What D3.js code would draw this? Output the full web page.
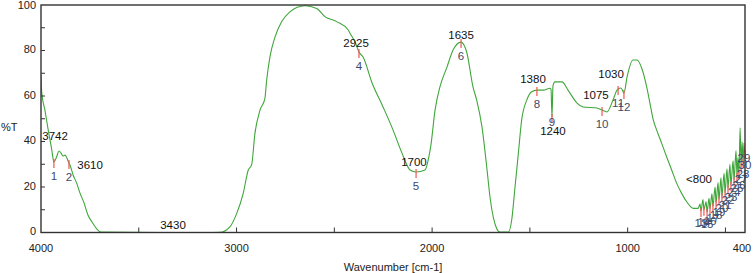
<!DOCTYPE html>
<html>
<head>
<meta charset="utf-8">
<script src="https://cdn.jsdelivr.net/npm/d3@7"></script>
<style>
  html, body { margin: 0; padding: 0; background: #fff; }
  svg { display: block; }
</style>
</head>
<body>
<svg id="chart" width="754" height="273"></svg>
<script>
// ---- data ----
const wavenumbers = [4000,3996,3980,3963,3945,3937,3934,3920,3908,3898,3888,3877,3857,3852,3836,3818,3801,3780,3760,3739,3714,3693,3400,3150,3085,3034,2999,2966,2940,2923,2906,2880,2855,2846,2829,2803,2769,2727,2690,2650,2590,2548,2488,2429,2420,2394,2374,2353,2307,2251,2200,2154,2113,2082,2036,2020,2006,1985,1960,1924,1893,1852,1822,1791,1772,1745,1719,1704,1670,1653,1610,1593,1576,1559,1542,1516,1491,1464,1431,1397,1392,1387,1382,1372,1336,1305,1259,1228,1157,1131,1106,1075,1055,1049,1034,1019,1003,973,952,928,903,886,869,852,826,801,775,749,724,698,664,640,630,625,615,610,599,594,584,579,569,564,553,548,538,533,523,518,507,502,492,487,477,472,461,456,446,441,436,431,425,420,415,410,405,400];
const transmittance = [69.2,61.3,53.8,45.0,36.3,31.9,31.0,33.3,35.8,35.0,33.6,34.0,30.5,29.7,25.3,21.8,17.4,13.0,7.7,4.6,1.5,0.2,0.0,0.0,0.1,2.5,8.4,17.2,27.5,29.7,43.6,53.8,59.0,67.0,77.3,86.0,92.7,97.0,99.0,99.7,98.5,94.9,92.7,89.0,87.6,83.7,79.3,77.1,65.7,55.2,45.1,34.9,27.5,26.6,27.5,31.9,38.5,53.8,64.0,72.7,80.2,83.7,78.9,64.0,58.2,46.4,27.5,15.6,1.8,0.2,0.2,5.5,20.0,34.8,49.5,58.2,61.9,62.6,62.6,63.4,63.0,50.8,64.5,66.2,66.2,62.6,56.9,55.2,54.7,53.8,53.0,58.2,62.5,63.1,63.5,61.3,68.4,75.8,75.8,72.2,64.1,56.8,49.5,45.1,39.2,33.3,27.5,21.6,17.2,13.5,10.6,10.6,12.5,9.5,14.5,10.0,13.5,9.0,15.0,10.5,17.0,11.5,20.0,13.0,22.0,14.5,24.0,16.0,26.0,17.5,28.0,19.5,30.0,21.0,31.5,23.0,36.0,25.0,33.0,26.0,46.0,29.0,40.0,31.0,38.0,35.0];

// numbered peak markers (position on the wavenumber axis)
const peakIds = [1,2,4,5,6,8,9,10,11,12,13,14,15,16,17,18,19,20,21,22,23,24,25,26,27,28,29,30];
const peakWn  = [3934,3857,2374,2082,1852,1464,1387,1131,1049,1019,625,610,594,579,564,548,533,518,502,487,472,456,441,431,420,410,405,400];

// wavenumber annotations: text, wavenumber position, %T position
const annoText = ["3742","3610","3430","2925","1700","1635","1380","1240","1075","1030","<800"];
const annoWn   = [3928,3749,3325,2389,2093,1852,1484,1382,1162,1085,635];
const annoT    = [42.0,29.2,2.9,82.9,30.5,86.4,67.0,44.2,60.0,69.2,23.0];

const xTicksLabeled = [4000,3000,2000,1000,400];
const xTicksMarks = [3500,3000,2500,2000,1500,1000,500];
const yTicksLabeled = [0,20,40,60,80,100];
const yTicksMarks = [10,20,30,40,50,60,70,80,90];

// ---- drawing ----
const svg = d3.select("#chart");
const L = 41, R = 745, T = 5, B = 232.5;
const x = d3.scaleLinear().domain([4000, 400]).range([L, R]);
const y = d3.scaleLinear().domain([0, 100]).range([B, T]);

const font = "'Liberation Sans', Arial, sans-serif";
const green = "#3fa63a";
const red = "#f05555";
const numColor = "#3d4a6a";

const data = wavenumbers.map((w, i) => ({w, t: transmittance[i]}));

svg.append("defs").append("clipPath").attr("id", "clip")
  .append("rect").attr("x", L).attr("y", T - 1).attr("width", R - L).attr("height", B - T + 1);

// curve
svg.append("path")
  .datum(data)
  .attr("clip-path", "url(#clip)")
  .attr("fill", "none")
  .attr("stroke", green)
  .attr("stroke-width", 1.1)
  .attr("d", d3.line().curve(d3.curveMonotoneX).x(d => x(d.w)).y(d => y(d.t)));

// peak markers
const tAt = w => transmittance[wavenumbers.indexOf(w)];
const pk = svg.append("g");
peakIds.forEach((id, i) => {
  const w = peakWn[i];
  const py = y(tAt(w));
  const px = x(w);
  pk.append("line")
    .attr("x1", px).attr("x2", px)
    .attr("y1", py - 3).attr("y2", py + 6)
    .attr("stroke", red).attr("stroke-width", 1.2);
  const dy = id === 9 ? 6 : (id >= 13 ? 13 : 15);
  pk.append("text")
    .attr("x", px).attr("y", py + dy)
    .attr("text-anchor", "middle")
    .attr("dominant-baseline", "middle")
    .attr("font-family", font)
    .attr("font-size", 11.5)
    .attr("fill", numColor)
    .text(id);
});

// annotations
annoText.forEach((s, i) => {
  svg.append("text")
    .attr("x", x(annoWn[i])).attr("y", y(annoT[i]))
    .attr("text-anchor", "middle")
    .attr("dominant-baseline", "middle")
    .attr("font-family", font)
    .attr("font-size", 11.5)
    .attr("fill", "#111")
    .text(s);
});

// frame
svg.append("rect")
  .attr("x", L).attr("y", T).attr("width", R - L).attr("height", B - T)
  .attr("fill", "none").attr("stroke", "#333").attr("stroke-width", 1.4);

// y ticks (inward)
svg.append("g").selectAll("line").data(yTicksMarks).join("line")
  .attr("x1", L).attr("x2", L + 4)
  .attr("y1", d => y(d)).attr("y2", d => y(d))
  .attr("stroke", "#333").attr("stroke-width", 1);
svg.append("g").selectAll("text").data(yTicksLabeled).join("text")
  .attr("x", 36).attr("y", d => d === 100 ? y(d) + 1.5 : y(d))
  .attr("text-anchor", "end")
  .attr("dominant-baseline", "middle")
  .attr("font-family", font).attr("font-size", 11).attr("fill", "#222")
  .text(d => d);

// x ticks (inward)
svg.append("g").selectAll("line").data(xTicksMarks).join("line")
  .attr("x1", d => x(d)).attr("x2", d => x(d))
  .attr("y1", B).attr("y2", B - 5)
  .attr("stroke", "#333").attr("stroke-width", 1);
svg.append("g").selectAll("text").data(xTicksLabeled).join("text")
  .attr("x", d => d === 400 ? x(d) - 3 : x(d)).attr("y", 252)
  .attr("text-anchor", "middle")
  .attr("font-family", font).attr("font-size", 11).attr("fill", "#222")
  .text(d => d);

// axis titles
svg.append("text")
  .attr("x", 393).attr("y", 271)
  .attr("text-anchor", "middle")
  .attr("font-family", font).attr("font-size", 11).attr("fill", "#222")
  .text("Wavenumber [cm-1]");
svg.append("text")
  .attr("x", 1).attr("y", 128)
  .attr("dominant-baseline", "middle")
  .attr("font-family", font).attr("font-size", 11).attr("fill", "#222")
  .text("%T");
</script>
</body>
</html>
